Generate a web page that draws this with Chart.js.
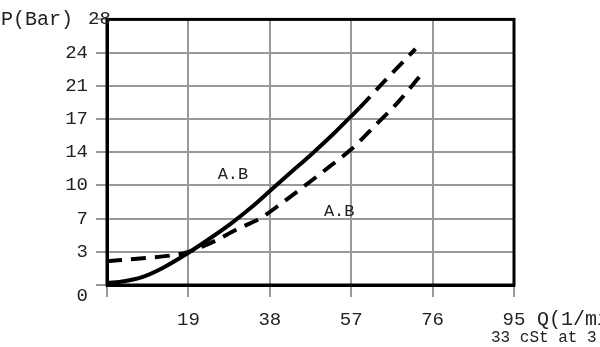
<!DOCTYPE html>
<html>
<head>
<meta charset="utf-8">
<script src="https://cdn.jsdelivr.net/npm/chart.js@4.4.1/dist/chart.umd.min.js"></script>
<style>
  body { margin: 0; background: #fff; }
  canvas { display: block; }
</style>
</head>
<body>
<canvas id="chart" width="600" height="347"></canvas>
<script>
// flow Q (1/min) vs pressure P (Bar)
var curveA_Q = [0, 4, 8, 13, 19, 24, 29, 34, 38, 43, 48, 53, 57, 59, 65, 72];
var curveA_P = [0.2, 0.4, 0.8, 1.8, 3.4, 4.9, 6.5, 8.3, 9.9, 11.9, 13.9, 16.0, 17.8, 18.7, 21.6, 24.9];
var curveB_Q = [0, 7.7, 14.7, 19, 25, 30, 36, 41, 46, 52, 57, 63, 68, 73];
var curveB_P = [2.5, 2.8, 3.1, 3.5, 4.6, 5.8, 7.1, 8.7, 10.4, 12.5, 14.3, 17.0, 19.3, 22.0];
var solidUntilQ = 59;

var yTickLabels = ['0', '3', '7', '10', '14', '17', '21', '24', '28'];
var xTickLabels = ['', '19', '38', '57', '76', '95'];
var curveLabels = ['A.B', 'A.B'];
var curveLabelAt = [[29.4, 11.6], [54.2, 7.7]];

var MONO = '"Liberation Mono", "Courier New", monospace';

function toPoints(xs, ys) {
    var pts = [];
    for (var i = 0; i < xs.length; i++) {
        pts.push({ x: xs[i], y: ys[i] });
    }
    return pts;
}

// frame, axis names, corner labels
var extras = {
    id: 'extras',
    afterDraw: function (chart) {
        var c = chart.ctx;
        var a = chart.chartArea;
        var xs = chart.scales.x, ys = chart.scales.y;
        c.save();
        c.strokeStyle = '#000';
        c.lineWidth = 3;
        c.strokeRect(a.left, a.top, a.right - a.left, a.bottom - a.top);

        c.fillStyle = '#222';
        c.textBaseline = 'middle';
        c.textAlign = 'left';
        c.font = '20px ' + MONO;
        c.fillText('P(Bar)', 1, a.top);
        c.fillText('Q(1/min)', 537, 320);
        c.font = '19px ' + MONO;
        c.fillText(yTickLabels[yTickLabels.length - 1], 88, a.top);
        c.textAlign = 'right';
        c.fillText(yTickLabels[0], 88, a.bottom + 11);

        c.textAlign = 'left';
        c.font = '16px ' + MONO;
        c.fillText('33 cSt at 3', 491, 338);

        c.textAlign = 'center';
        c.font = '17px ' + MONO;
        for (var i = 0; i < curveLabels.length; i++) {
            c.fillText(curveLabels[i], xs.getPixelForValue(curveLabelAt[i][0]), ys.getPixelForValue(curveLabelAt[i][1]));
        }
        c.restore();
    }
};

new Chart(document.getElementById('chart'), {
    type: 'line',
    data: {
        datasets: [{
            data: toPoints(curveA_Q, curveA_P),
            borderColor: '#000',
            borderWidth: 4,
            pointRadius: 0,
            cubicInterpolationMode: 'monotone',
            segment: {
                borderDash: function (ctx) { return ctx.p0.parsed.x >= solidUntilQ ? [15, 9] : undefined; }
            }
        }, {
            data: toPoints(curveB_Q, curveB_P),
            borderColor: '#000',
            borderWidth: 4,
            borderDash: [15, 9],
            pointRadius: 0,
            cubicInterpolationMode: 'monotone'
        }]
    },
    options: {
        responsive: false,
        animation: false,
        layout: { padding: { top: 15, right: 86, left: 0, bottom: 0 } },
        plugins: { legend: { display: false }, tooltip: { enabled: false } },
        scales: {
            x: {
                type: 'linear',
                min: 0, max: 95,
                afterFit: function (s) { s.height = 62; },
                grid: { color: '#999', lineWidth: 2, tickLength: 12 },
                border: { color: '#000', width: 3 },
                ticks: {
                    stepSize: 19,
                    padding: 12,
                    color: '#222',
                    font: { family: MONO, size: 19 },
                    maxRotation: 0,
                    callback: function (v, i) { return xTickLabels[i]; }
                }
            },
            y: {
                type: 'linear',
                min: 0, max: 28,
                afterFit: function (s) { s.width = 107; },
                grid: { color: '#999', lineWidth: 2, tickLength: 11 },
                border: { color: '#000', width: 3 },
                ticks: {
                    stepSize: 3.5,
                    padding: 8,
                    color: '#222',
                    font: { family: MONO, size: 19 },
                    callback: function (v, i) {
                        return (i === 0 || i === yTickLabels.length - 1) ? '' : yTickLabels[i];
                    }
                }
            }
        }
    },
    plugins: [extras]
});
</script>
</body>
</html>
